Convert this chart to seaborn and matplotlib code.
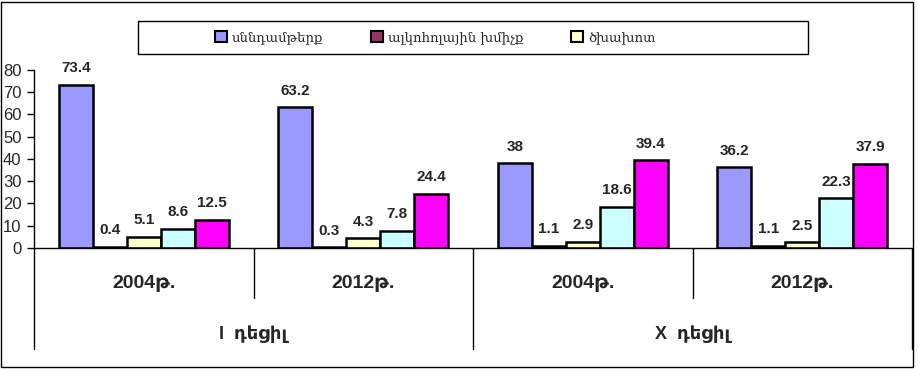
import numpy as np
import pandas as pd
import matplotlib
matplotlib.use("Agg")
import matplotlib.pyplot as plt
from matplotlib.patches import Rectangle, Patch
import seaborn as sns

sns.set_style("white")
plt.rcParams["font.family"] = ["Liberation Sans", "DejaVu Sans"]

# data
groups = ["I_2004", "I_2012", "X_2004", "X_2012"]
year_labels = ["2004թ.", "2012թ.", "2004թ.", "2012թ."]
decile_labels = ["I  դեցիլ", "X  դեցիլ"]
series = ["սննդամթերք", "ալկոհոլային խմիչք", "ծխախոտ", "s4", "s5"]
food = [73.4, 63.2, 38, 36.2]
alcohol = [0.4, 0.3, 1.1, 1.1]
tobacco = [5.1, 4.3, 2.9, 2.5]
s4 = [8.6, 7.8, 18.6, 22.3]
s5 = [12.5, 24.4, 39.4, 37.9]
colors = ["#9999FF", "#993366", "#FFFFCC", "#CCFFFF", "#FF00FF"]

rows = []
for name, vals in zip(series, [food, alcohol, tobacco, s4, s5]):
    for g, v in zip(groups, vals):
        rows.append({"group": g, "series": name, "value": v})
df = pd.DataFrame(rows)

fig = plt.figure(figsize=(9.18, 3.69), dpi=100)
W, H = 918, 369
ax = fig.add_axes([34 / W, 1 - 248 / H, 878 / W, 178 / H])

sns.barplot(data=df, x="group", y="value", hue="series", hue_order=series,
            order=groups, palette=colors, saturation=1, width=0.775,
            edgecolor="black", linewidth=1.8, legend=False, ax=ax)

for cont in ax.containers:
    ax.bar_label(cont, fmt=lambda v: f"{v:g}", padding=7,
                 fontsize=11, fontweight="bold")

ax.set_xlim(-0.5, 3.5)
ax.set_ylim(0, 80)
ax.set_yticks(np.arange(0, 81, 10))
ax.tick_params(axis="y", direction="out", length=5, width=1, color="black",
               labelsize=12, pad=4, left=True)
ax.set_xticks([])
ax.set_xlabel("")
ax.set_ylabel("")
for s in ["top", "right"]:
    ax.spines[s].set_visible(False)
for s in ["left", "bottom"]:
    ax.spines[s].set_color("black")
    ax.spines[s].set_linewidth(1)

# category dividers below the axis
tr = ax.get_xaxis_transform()
short = (248 - 298) / 178
long_ = (248 - 349) / 178
for x, y0 in zip([-0.5, 0.5, 1.5, 2.5, 3.5], [long_, short, long_, short, long_]):
    ax.plot([x, x], [0, y0], color="black", lw=1, transform=tr, clip_on=False)

for i, lab in enumerate(year_labels):
    ax.text(i, (248 - 283) / 178, lab, transform=tr, ha="center", va="center",
            fontsize=14, fontweight="bold")
for i, lab in enumerate(decile_labels):
    ax.text(0.5 + 2 * i, (248 - 334) / 178, lab, transform=tr, ha="center",
            va="center", fontsize=13, fontweight="bold")

# legend
fig.patches.append(Rectangle((138 / W, 1 - 54 / H), 670 / W, 33 / H,
                             transform=fig.transFigure, fill=False,
                             edgecolor="black", lw=1))
handles = [Patch(facecolor=c, edgecolor="black", lw=1.5) for c in colors[:3]]
fig.legend(handles, series[:3], loc="center left", ncol=3, frameon=False,
           bbox_to_anchor=(203 / W, 1 - 37.5 / H), handlelength=0.9,
           handleheight=0.9, handletextpad=0.4, columnspacing=3.6,
           prop={"family": ["DejaVu Serif", "DejaVu Sans"], "size": 9.5})

# outer border
fig.patches.append(Rectangle((1 / W, 2 / H), 912 / W, 365 / H,
                             transform=fig.transFigure, fill=False,
                             edgecolor="black", lw=1))

fig.savefig("out.png", dpi=100)
